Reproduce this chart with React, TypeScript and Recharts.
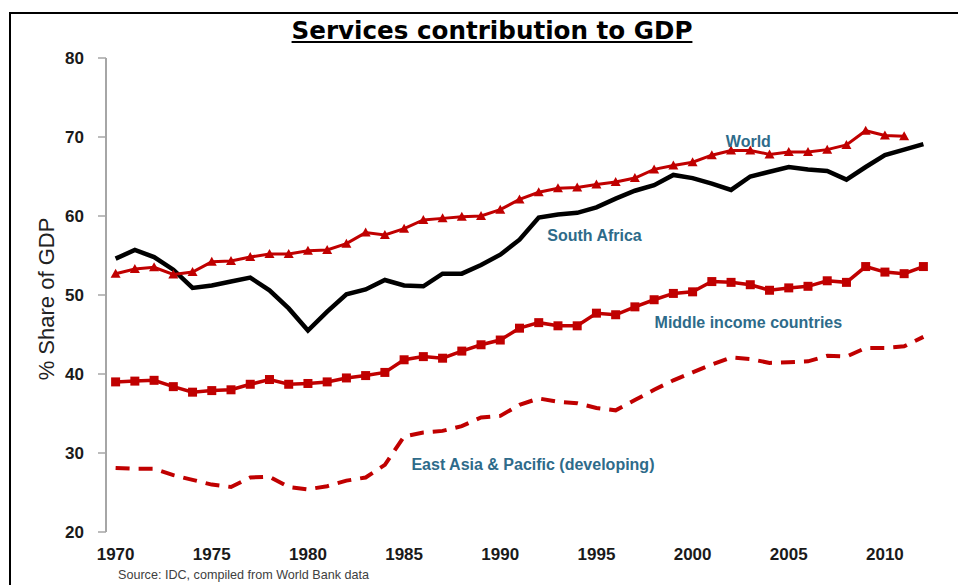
import React from 'react'
import { LineChart, Line, XAxis, YAxis, ReferenceDot } from 'recharts'

// years on the category axis (1970..2012)
const years = [
  1970, 1971, 1972, 1973, 1974, 1975, 1976, 1977, 1978, 1979,
  1980, 1981, 1982, 1983, 1984, 1985, 1986, 1987, 1988, 1989,
  1990, 1991, 1992, 1993, 1994, 1995, 1996, 1997, 1998, 1999,
  2000, 2001, 2002, 2003, 2004, 2005, 2006, 2007, 2008, 2009,
  2010, 2011, 2012,
]
const yearLabels = [1970, 1975, 1980, 1985, 1990, 1995, 2000, 2005, 2010]
const yTicks = [20, 30, 40, 50, 60, 70, 80]

const world = [
  52.7, 53.3, 53.5, 52.6, 52.9, 54.2, 54.3, 54.8, 55.2, 55.2,
  55.6, 55.7, 56.5, 57.9, 57.6, 58.4, 59.5, 59.7, 59.9, 60.0,
  60.8, 62.1, 63.0, 63.5, 63.6, 64.0, 64.3, 64.8, 65.9, 66.4,
  66.8, 67.7, 68.3, 68.3, 67.8, 68.1, 68.1, 68.4, 69.0, 70.8,
  70.2, 70.1, null,
]
const southAfrica = [
  54.6, 55.7, 54.8, 53.2, 50.9, 51.2, 51.7, 52.2, 50.6, 48.3,
  45.5, 47.9, 50.1, 50.7, 51.9, 51.2, 51.1, 52.7, 52.7, 53.8,
  55.1, 57.0, 59.8, 60.2, 60.4, 61.1, 62.2, 63.2, 63.9, 65.2,
  64.8, 64.1, 63.3, 65.0, 65.6, 66.2, 65.9, 65.7, 64.6, 66.2,
  67.7, 68.4, 69.1,
]
const middleIncome = [
  39.0, 39.1, 39.2, 38.4, 37.7, 37.9, 38.0, 38.7, 39.3, 38.7,
  38.8, 39.0, 39.5, 39.8, 40.2, 41.8, 42.2, 42.0, 42.9, 43.7,
  44.3, 45.8, 46.5, 46.1, 46.1, 47.7, 47.5, 48.5, 49.4, 50.2,
  50.4, 51.7, 51.6, 51.3, 50.6, 50.9, 51.1, 51.8, 51.6, 53.6,
  52.9, 52.7, 53.6,
]
const eastAsia = [
  28.1, 28.0, 28.0, 27.2, 26.6, 26.0, 25.7, 26.9, 27.0, 25.7,
  25.4, 25.8, 26.5, 26.9, 28.5, 32.1, 32.6, 32.8, 33.4, 34.5,
  34.7, 36.1, 36.9, 36.5, 36.3, 35.7, 35.4, 36.7, 38.0, 39.2,
  40.2, 41.2, 42.1, 41.9, 41.4, 41.5, 41.6, 42.3, 42.2, 43.3,
  43.3, 43.5, 44.7,
]

// where the in-chart series names sit (data coordinates)
const seriesLabels = [
  { text: 'World', year: 2002.9, value: 69.5 },
  { text: 'South Africa', year: 1994.9, value: 57.5 },
  { text: 'Middle income countries', year: 2002.9, value: 46.6 },
  { text: 'East Asia & Pacific (developing)', year: 1991.7, value: 28.6 },
]

const data = years.map((year, i) => ({
  year,
  world: world[i],
  southAfrica: southAfrica[i],
  middleIncome: middleIncome[i],
  eastAsia: eastAsia[i],
}))

// tick marks sit between the years, like an Excel category axis
const bounds = years.map(y => y - 0.5).concat(years[years.length - 1] + 0.5)

const RED = '#C00000'
const AXIS = '#A6A6A6'
const LABEL = '#2E6B8A'
const FONT = '"Liberation Sans", Arial, sans-serif'

const Triangle = (props: any) => {
  const { cx, cy, index } = props
  if (cx == null || cy == null) return <g key={index} />
  return <polygon key={index} points={`${cx},${cy - 5} ${cx - 5},${cy + 4} ${cx + 5},${cy + 4}`} fill={RED} />
}

const Square = (props: any) => {
  const { cx, cy, index } = props
  if (cx == null || cy == null) return <g key={index} />
  return <rect key={index} x={cx - 4.5} y={cy - 4.5} width={9} height={9} fill={RED} />
}

const YTitle = (props: any) => {
  const vb = props.viewBox
  const x = vb.x + 46
  const y = vb.y + vb.height / 2 + 4
  return (
    <text x={x} y={y} transform={`rotate(-90 ${x} ${y})`} textAnchor="middle" dominantBaseline="central"
      fill="#222" fontSize={22} fontFamily={FONT}>
      % Share of GDP
    </text>
  )
}

export default function App() {
  const tickStyle = { fill: '#1a1a1a', fontSize: 17, fontWeight: 'bold', fontFamily: FONT }
  return (
    <div style={{ position: 'absolute', left: 0, top: 0, width: 958, height: 585, background: '#fff', overflow: 'hidden' }}>
      <div style={{ position: 'absolute', left: 9, top: 12, width: 1000, height: 700, borderTop: '2px solid #000', borderLeft: '2px solid #000' }} />
      <div style={{
        position: 'absolute', left: 92, top: 17, width: 800, textAlign: 'center', lineHeight: '28px',
        fontFamily: '"DejaVu Sans", sans-serif', fontWeight: 'bold', fontSize: 24.6,
        textDecoration: 'underline', color: '#000',
      }}>
        Services contribution to GDP
      </div>
      <div style={{ position: 'absolute', left: 118, top: 568, fontFamily: FONT, fontSize: 12.6, color: '#404040' }}>
        Source: IDC, compiled from World Bank data
      </div>
      <div style={{ position: 'absolute', left: 0, top: 0 }}>
        <LineChart width={958} height={585} data={data} margin={{ top: 58, right: 25, left: 0, bottom: 23 }}>
          <XAxis xAxisId="bounds" dataKey="year" type="number" domain={[bounds[0], bounds[bounds.length - 1]]}
            ticks={bounds} interval={0} tick={false} tickSize={7} height={0}
            axisLine={{ stroke: AXIS, strokeWidth: 2 }} tickLine={{ stroke: AXIS, strokeWidth: 1.5 }} />
          <XAxis xAxisId="years" dataKey="year" type="number" domain={[bounds[0], bounds[bounds.length - 1]]}
            ticks={yearLabels} interval={0} tickSize={0} tickMargin={16} height={30}
            axisLine={false} tickLine={false} tick={tickStyle} />
          <YAxis type="number" domain={[20, 80]} ticks={yTicks} interval={0} width={106}
            tickSize={8} tickMargin={14} tick={tickStyle}
            axisLine={{ stroke: AXIS, strokeWidth: 2 }} tickLine={{ stroke: AXIS, strokeWidth: 1.5 }}
            label={{ content: YTitle }} />
          <Line xAxisId="bounds" type="linear" dataKey="eastAsia" stroke={RED} strokeWidth={4}
            strokeDasharray="14 9" dot={false} isAnimationActive={false} />
          <Line xAxisId="bounds" type="linear" dataKey="middleIncome" stroke={RED} strokeWidth={3.5}
            dot={Square} isAnimationActive={false} />
          <Line xAxisId="bounds" type="linear" dataKey="southAfrica" stroke="#000" strokeWidth={4.5}
            dot={false} isAnimationActive={false} />
          <Line xAxisId="bounds" type="linear" dataKey="world" stroke={RED} strokeWidth={3}
            dot={Triangle} isAnimationActive={false} />
          {seriesLabels.map(l => (
            <ReferenceDot key={l.text} xAxisId="bounds" x={l.year} y={l.value} r={0} fill="none" stroke="none"
              label={{ value: l.text, position: 'center', fill: LABEL, fontSize: 16, fontWeight: 'bold', fontFamily: FONT }} />
          ))}
        </LineChart>
      </div>
    </div>
  )
}
